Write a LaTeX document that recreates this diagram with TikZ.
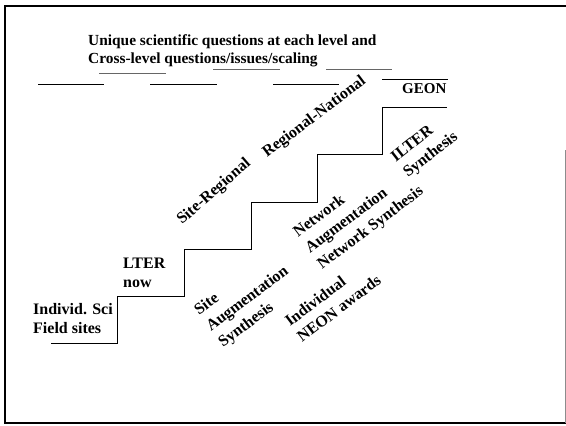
\documentclass[tikz,border=0pt]{standalone}
\usepackage{fontspec}
\setmainfont{Liberation Serif}

\tikzset{
  lbl/.style={font=\fontsize{16}{19}\selectfont\bfseries, inner sep=0pt, anchor=base west, align=left},
  slant/.style={lbl, font=\fontsize{16}{20}\selectfont\bfseries, rotate=37},
  stair/.style={line width=0.8pt},
  rule/.style={line width=0.7pt},
  faint/.style={line width=0.6pt, black!60},
}

\begin{document}
\begin{tikzpicture}[x=1pt, y=-1pt]
  \useasboundingbox (0,0) rectangle (566,426);

  % frame of the slide
  \draw[line width=1.2pt] (566,6) -- (5,6) -- (5,423) -- (566,423);
  \draw[line width=0.6pt, black!45] (565.5,150) -- (565.5,423);

  % title (base = last line)
  \node[lbl, font=\fontsize{15.4}{18}\selectfont\bfseries] (title) at (88,63)
    {Unique scientific questions at each level and\\Cross-level questions/issues/scaling};

  % rules under the title
  \draw[rule] (38,84) -- (104,84);
  \draw[rule] (150,84) -- (217,84);
  \draw[rule] (273,84) -- (339,84);
  \draw[rule] (382,79) -- (448,79); % over GEON
  \draw[faint] (99,73) -- (166,73);
  \draw[faint] (213,69) -- (280,69);
  \draw[faint] (326,69) -- (392,69);

  % corners of the staircase
  \coordinate (s0) at (51,343);  % bottom tread
  \coordinate (s1) at (117,343);
  \coordinate (s2) at (117,296);
  \coordinate (s3) at (184,296);
  \coordinate (s4) at (184,249);
  \coordinate (s5) at (251,249);
  \coordinate (s6) at (251,202);
  \coordinate (s7) at (317,202);
  \coordinate (s8) at (317,154);
  \coordinate (s9) at (382,154);
  \coordinate (s10) at (382,107);
  \coordinate (s11) at (447,107); % top tread

  \draw[stair] (s0) -- (s1) -- (s2) -- (s3) -- (s4) -- (s5) -- (s6)
    -- (s7) -- (s8) -- (s9) -- (s10) -- (s11);

  % labels on the treads
  \node[lbl] (indiv) at (33,333) {Individ. Sci\\Field sites};
  \node[lbl] (lter) at (123,287) {LTER\\now};
  \node[lbl, font=\fontsize{15}{18}\selectfont\bfseries] (geon) at (402,93) {GEON};

  % slanted labels above the steps
  \node[slant, rotate=4] (sitereg) at (182,225) {Site-Regional};
  \node[slant] (regnat) at (267,158) {Regional-National};

  % slanted labels below the steps (placed by their last line)
  \node[slant] (siteaug) at (223,348) {Site\\Augmentation\\Synthesis};
  \node[slant] (netaug) at (322,270) {Network\\Augmentation\\Network Synthesis};
  \node[slant] (neon) at (302,343) {Individual\\NEON awards};
  \node[slant, rotate=1] (ilter) at (408,178) {ILTER\\Synthesis};
\end{tikzpicture}
\end{document}
